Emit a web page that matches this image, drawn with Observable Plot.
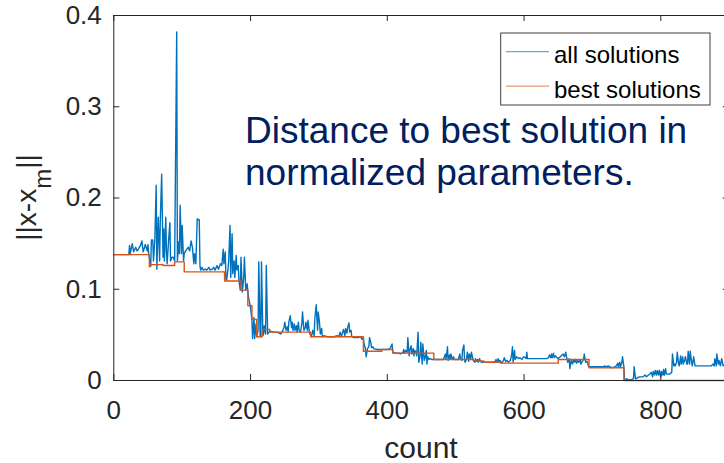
<!DOCTYPE html>
<html><head><meta charset="utf-8">
<script src="https://cdn.jsdelivr.net/npm/d3@7"></script>
<script src="https://cdn.jsdelivr.net/npm/@observablehq/plot@0.6"></script>
<style>
html,body{margin:0;padding:0;background:#fff;}
#chart{width:724px;height:463px;overflow:hidden;}
</style></head><body><div id="chart"></div>
<script>
const allCount = [
 0,22,23,24,27,29,32,34,36,39,
 41,43,45,46,49,50,51,54,55,57,
 58,60,62,63,65,67,68,70,72,73,
 74,76,77,78,80,82,83,85,87,89,
 92,93,95,96,97,99,100,102,103,105,
 107,109,111,113,115,117,118,120,122,125,
 126,127,129,131,134,136,139,141,144,146,
 148,151,153,156,158,160,161,163,164,165,
 167,168,170,171,173,174,176,177,179,180,
 182,183,185,186,188,190,191,193,195,197,
 199,200,202,203,205,206,208,209,211,212,
 214,215,216,218,219,220,222,223,225,227,
 229,234,239,244,246,249,250,252,254,255,
 256,258,260,261,262,264,265,267,268,270,
 271,273,275,276,278,280,281,283,284,286,
 288,289,291,293,294,296,298,299,301,302,
 304,305,307,312,317,322,327,329,331,333,
 334,336,338,339,341,342,344,345,347,348,
 351,353,356,358,361,363,365,366,368,369,
 371,373,374,376,377,379,380,385,390,395,
 400,
 404,407,408,412,417,419,423,424,425,427,
 429,430,432,433,435,436,438,439,440,442,
 443,445,446,448,449,451,452,454,455,457,
 458,459,461,463,465,468,473,477,482,485,
 486,488,489,491,492,493,495,497,498,500,
 502,504,506,507,509,510,512,513,514,516,
 517,519,520,522,523,525,526,528,529,530,
 532,533,535,536,538,541,546,550,555,558,
 559,561,562,564,565,567,570,571,573,575,
 577,580,582,583,584,586,587,589,592,594,
 597,599,602,603,604,605,609,614,623,633,
 636,637,639,640,641,643,644,646,648,650,
 653,
 657,659,661,662,664,666,667,669,671,672,
 674,675,677,678,680,682,683,685,687,688,
 690,692,693,694,695,699,704,709,713,716,
 718,721,723,726,728,733,735,737,738,740,
 741,743,744,746,747,749,750,752,755,757,
 760,761,763,764,766,769,772,774,777,779,
 782,784,786,788,789,791,792,794,795,797,
 798,800,801,803,804,805,807,808,810,811,
 813,816,817,819,820,821,823,824,826,827,
 829,830,832,833,835,836,838,839,840,842,
 843,845,846,848,850,855,859,864,869,874,
 876,878,879,881,882,884,885,887,889,891,
 892
];
const allValue = [
 0.138,0.138,0.148,0.139,0.150,0.141,0.146,0.142,0.144,0.148,
 0.153,0.141,0.146,0.149,0.142,0.149,0.139,0.126,0.154,0.154,
 0.131,0.154,0.214,0.122,0.179,0.131,0.175,0.226,0.135,0.166,
 0.131,0.179,0.142,0.128,0.152,0.173,0.131,0.135,0.135,0.131,
 0.382,0.131,0.152,0.139,0.192,0.139,0.170,0.131,0.139,0.142,
 0.144,0.146,0.142,0.153,0.146,0.128,0.139,0.128,0.177,0.176,
 0.126,0.121,0.124,0.121,0.122,0.121,0.124,0.121,0.122,0.124,
 0.121,0.126,0.122,0.128,0.126,0.144,0.128,0.141,0.111,0.110,
 0.122,0.131,0.170,0.113,0.161,0.117,0.131,0.113,0.137,0.121,
 0.126,0.110,0.099,0.135,0.097,0.113,0.135,0.099,0.106,0.091,
 0.084,0.080,0.066,0.046,0.069,0.046,0.062,0.048,0.055,0.130,
 0.049,0.048,0.130,0.049,0.051,0.060,0.051,0.126,0.051,0.053,
 0.054,0.053,0.053,0.051,0.053,0.058,0.064,0.055,0.059,0.053,
 0.064,0.071,0.058,0.064,0.055,0.062,0.055,0.060,0.053,0.064,
 0.055,0.053,0.062,0.075,0.055,0.058,0.064,0.055,0.066,0.053,
 0.049,0.048,0.055,0.049,0.068,0.083,0.055,0.075,0.062,0.051,
 0.057,0.048,0.049,0.048,0.048,0.048,0.049,0.048,0.053,0.048,
 0.051,0.056,0.049,0.057,0.052,0.058,0.063,0.053,0.055,0.048,
 0.047,0.047,0.047,0.047,0.048,0.045,0.047,0.040,0.035,0.026,
 0.035,0.037,0.047,0.041,0.036,0.037,0.035,0.034,0.034,0.034,
 0.034,
 0.035,0.040,0.031,0.030,0.030,0.029,0.031,0.034,0.030,0.033,
 0.031,0.047,0.027,0.033,0.038,0.029,0.035,0.027,0.033,0.031,
 0.027,0.053,0.020,0.027,0.042,0.018,0.040,0.022,0.024,0.033,
 0.018,0.026,0.023,0.024,0.023,0.023,0.023,0.023,0.023,0.029,
 0.023,0.037,0.022,0.028,0.024,0.029,0.023,0.026,0.023,0.023,
 0.023,0.023,0.029,0.024,0.022,0.033,0.039,0.022,0.020,0.024,
 0.031,0.021,0.029,0.024,0.031,0.024,0.022,0.020,0.024,0.021,
 0.023,0.020,0.024,0.021,0.020,0.020,0.020,0.020,0.020,0.021,
 0.023,0.020,0.024,0.020,0.022,0.019,0.022,0.025,0.021,0.022,
 0.020,0.022,0.029,0.037,0.020,0.033,0.023,0.026,0.024,0.025,
 0.023,0.026,0.025,0.024,0.031,0.024,0.024,0.024,0.024,0.024,
 0.025,0.028,0.025,0.029,0.025,0.030,0.025,0.027,0.025,0.024,
 0.026,
 0.029,0.026,0.031,0.026,0.020,0.024,0.013,0.022,0.018,0.023,
 0.020,0.023,0.019,0.022,0.020,0.023,0.018,0.021,0.023,0.029,
 0.020,0.021,0.019,0.016,0.015,0.015,0.015,0.015,0.015,0.015,
 0.016,0.015,0.016,0.015,0.014,0.015,0.016,0.019,0.015,0.020,
 0.015,0.020,0.026,0.015,0.001,0.001,0.002,0.001,0.001,0.001,
 0.002,0.015,0.002,0.002,0.003,0.004,0.004,0.004,0.006,0.004,
 0.006,0.007,0.009,0.004,0.010,0.006,0.011,0.006,0.011,0.006,
 0.011,0.004,0.010,0.006,0.012,0.006,0.013,0.007,0.007,0.007,
 0.007,0.009,0.029,0.016,0.018,0.016,0.020,0.031,0.018,0.016,
 0.027,0.018,0.026,0.018,0.023,0.026,0.018,0.018,0.032,0.018,
 0.032,0.020,0.016,0.026,0.016,0.016,0.016,0.016,0.016,0.016,
 0.018,0.016,0.024,0.016,0.029,0.018,0.022,0.016,0.024,0.016,
 0.017
];
const bestCount = [0,52,54,72,89,103,162,186,196,202,209,217,228,288,365,392,408,468,526,541,566,650,695,746,900];
const bestValue = [0.138,0.125,0.127,0.126,0.130,0.119,0.109,0.099,0.082,0.067,0.048,0.056,0.053,0.048,0.032,0.034,0.030,0.023,0.0215,0.020,0.019,0.023,0.014,0,0];
const xTicks = [0,200,400,600,800];
const yTicks = [0,0.1,0.2,0.3,0.4];
const seriesNames = ["all solutions","best solutions"];
const seriesColors = ["#0072BD","#D95319"];
const annotationLines = ["Distance to best solution in","normalized parameters."];
const xLabel = "count";

const allData = allCount.map((c,i)=>({count:c, value:allValue[i]}));
const bestData = bestCount.map((c,i)=>({count:c, value:bestValue[i]}));
const font = "'Liberation Sans', Arial, Helvetica, sans-serif";
const ink = "#262626";

const plot = Plot.plot({
  width: 724, height: 463,
  marginLeft: 113.3, marginRight: -4.7, marginTop: 15, marginBottom: 83,
  style: {fontFamily: font, background: "#fff", color: ink},
  x: {domain: [0, 900]},
  y: {domain: [0, 0.4]},
  marks: [
    Plot.line(allData, {x: "count", y: "value", stroke: seriesColors[0], strokeWidth: 1.4}),
    Plot.line(bestData, {x: "count", y: "value", stroke: seriesColors[1], strokeWidth: 1.4, curve: "step-after"}),
    Plot.frame({stroke: ink, strokeWidth: 1}),
    Plot.tickX(xTicks, {x: d => d, insetTop: 359, stroke: ink}),
    Plot.tickX(xTicks, {x: d => d, insetBottom: 359, stroke: ink}),
    Plot.tickY(yTicks, {y: d => d, insetRight: 609.4, stroke: ink}),
    Plot.tickY(yTicks, {y: d => d, insetLeft: 609.4, stroke: ink}),
    Plot.axisX({ticks: xTicks, tickSize: 0, tickPadding: 20, fontSize: 26, tickFormat: d => String(d), label: null}),
    Plot.axisY({ticks: yTicks, tickSize: 0, tickPadding: 12, fontSize: 26, tickFormat: d => String(d), label: null})
  ]
});
document.getElementById("chart").appendChild(plot);

const svg = d3.select(plot);
// y label
const yl = svg.append("text")
  .attr("transform", "translate(36,197.5) rotate(-90)")
  .attr("text-anchor", "middle")
  .attr("font-family", font).attr("font-size", 28).attr("fill", ink);
yl.append("tspan").text("||x-x");
yl.append("tspan").attr("font-size", 24).attr("dy", 15).text("m");
yl.append("tspan").attr("dy", -15).text("||");
// x label
svg.append("text").attr("x", 421).attr("y", 458).attr("text-anchor", "middle")
  .attr("font-family", font).attr("font-size", 30).attr("fill", ink).text(xLabel);
// annotation
annotationLines.forEach((t, i) => {
  svg.append("text").attr("x", 245).attr("y", 142.7 + i * 42.3).attr("text-anchor", "start")
    .attr("font-family", font).attr("font-size", 37).attr("fill", "#002060").text(t);
});
// legend
const lg = svg.append("g");
lg.append("rect").attr("x", 500.7).attr("y", 33).attr("width", 209.3).attr("height", 72)
  .attr("fill", "#fff").attr("stroke", "#404040").attr("stroke-width", 1);
seriesNames.forEach((n, i) => {
  const y = 51.7 + i * 34.5;
  lg.append("line").attr("x1", 506).attr("x2", 549).attr("y1", y).attr("y2", y)
    .attr("stroke", seriesColors[i]).attr("stroke-opacity", 0.6).attr("stroke-width", 1.2);
  lg.append("text").attr("x", 554).attr("y", y + 11.7).attr("text-anchor", "start")
    .attr("font-family", font).attr("font-size", 24).attr("fill", "#000").text(n);
});
</script></body></html>
